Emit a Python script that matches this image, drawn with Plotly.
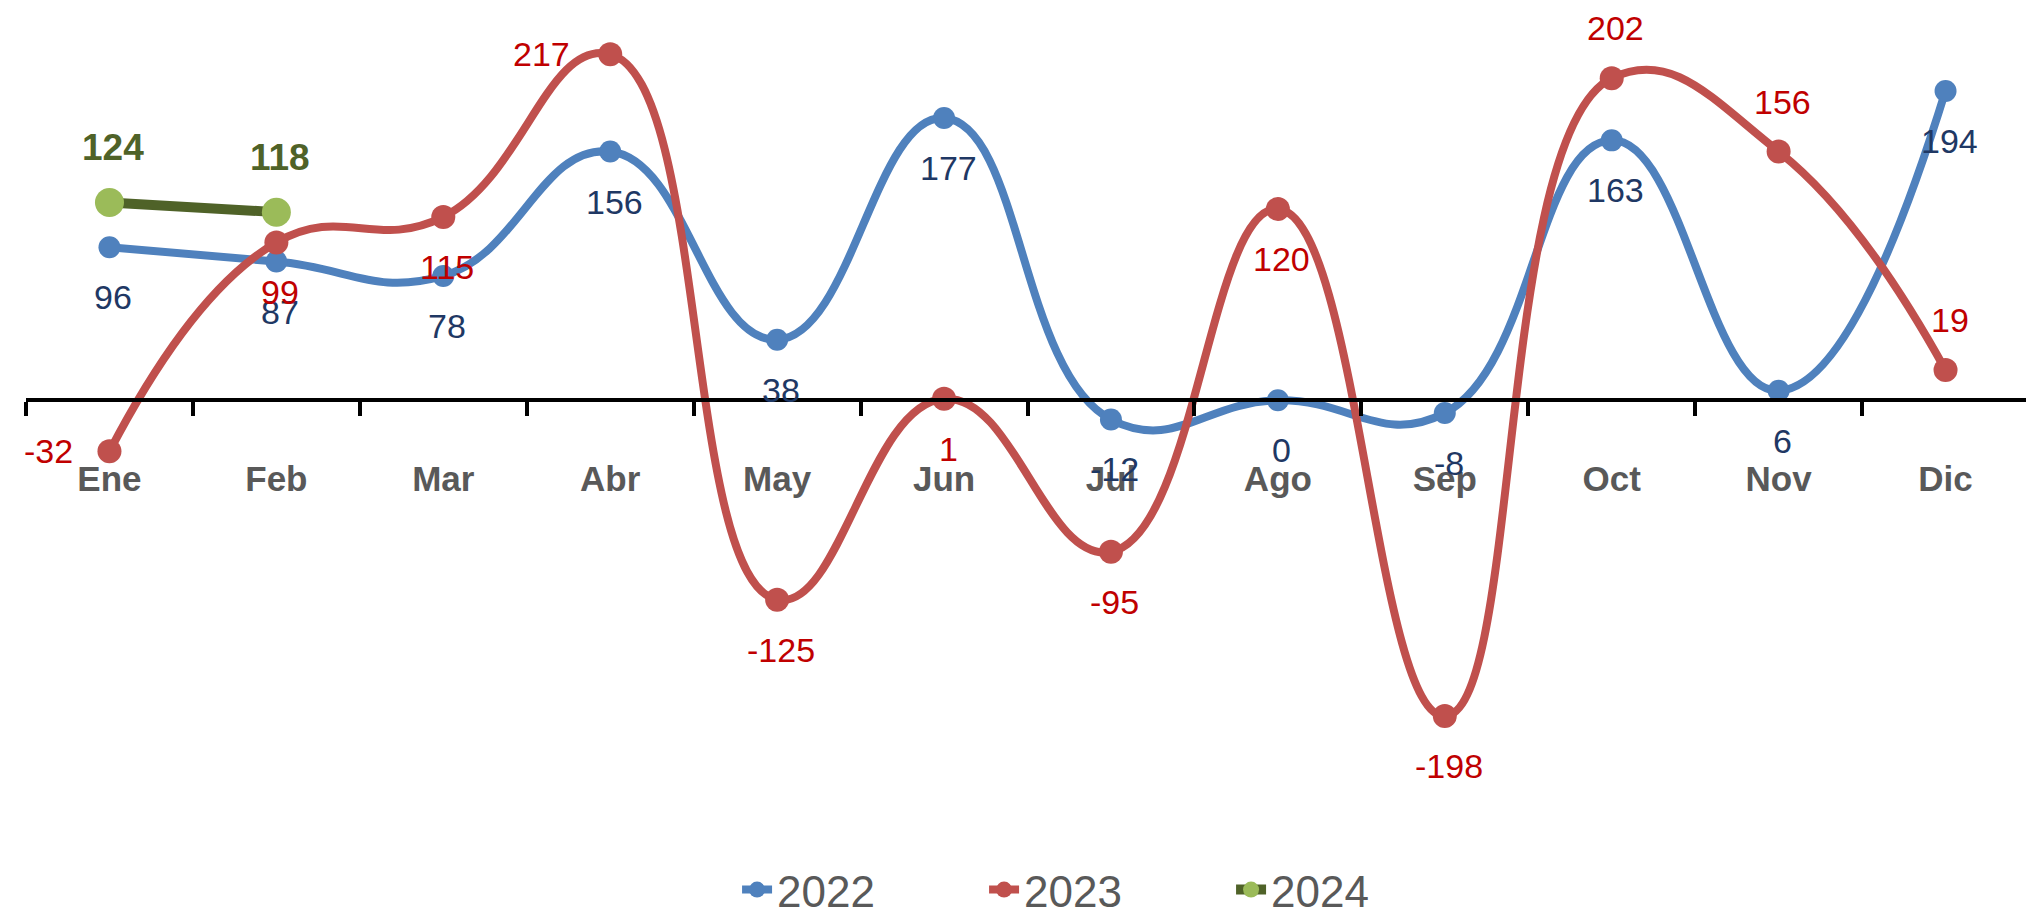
import plotly.graph_objects as go

months = ["Ene", "Feb", "Mar", "Abr", "May", "Jun", "Jul", "Ago", "Sep", "Oct", "Nov", "Dic"]
v2022 = [96, 87, 78, 156, 38, 177, -12, 0, -8, 163, 6, 194]
v2023 = [-32, 99, 115, 217, -125, 1, -95, 120, -198, 202, 156, 19]
months2024 = ["Ene", "Feb"]
v2024 = [124, 118]

# label placement per point (style, not data)
pos2022 = ["below"] * 12
pos2023 = ["left", "below", "below", "left", "below", "below", "below", "below", "below", "above", "above", "above"]
pos2024 = ["above", "above"]

BLUE = "#4F81BD"
RED = "#C0504D"
GREEN_L = "#4F6228"
GREEN_M = "#9BBB59"
NAVY = "#1F3864"
DRED = "#C00000"
GRAY = "#595959"
NUMFONT = "Liberation Sans Narrow, Arial Narrow, Liberation Sans, Arial"

fig = go.Figure()
fig.add_trace(go.Scatter(x=months, y=v2022, name="2022", mode="lines+markers",
                         line=dict(color=BLUE, width=8, shape="spline", smoothing=1.3),
                         marker=dict(color=BLUE, size=22)))
fig.add_trace(go.Scatter(x=months, y=v2023, name="2023", mode="lines+markers",
                         line=dict(color=RED, width=8, shape="spline", smoothing=1.3),
                         marker=dict(color=RED, size=24)))
fig.add_trace(go.Scatter(x=months2024, y=v2024, name="2024", mode="lines+markers",
                         line=dict(color=GREEN_L, width=10),
                         marker=dict(color=GREEN_M, size=29)))

def shifts(p, yv, above_dy=50):
    if p == "below":
        return 4, -50
    if p == "above":
        return 4, above_dy
    if p == "left":
        return (-69 if yv > 200 else -61), 0
    return 0, 0

annotations = []
for xs, ys, ps, col, size, bold, ady in [
    (months, v2022, pos2022, NAVY, 34, False, 50),
    (months, v2023, pos2023, DRED, 34, False, 50),
    (months2024, v2024, pos2024, GREEN_L, 37, True, 55),
]:
    for xv, yv, p in zip(xs, ys, ps):
        dx, dy = shifts(p, yv, ady)
        annotations.append(dict(
            x=xv, y=yv, xref="x", yref="y", text=(f"<b>{yv}</b>" if bold else str(yv)),
            showarrow=False, xshift=dx, yshift=dy, xanchor="center", yanchor="middle",
            font=dict(family=NUMFONT, size=size, color=col)))

fig.update_layout(
    width=2034, height=918,
    margin=dict(l=18, r=13, t=0, b=113),
    paper_bgcolor="white", plot_bgcolor="white",
    annotations=annotations,
    showlegend=True,
    legend=dict(orientation="h", x=0.355, xanchor="left", y=-0.115, yanchor="middle",
                entrywidth=202, entrywidthmode="pixels", itemsizing="trace",
                font=dict(family=NUMFONT, size=44, color=GRAY)),
    xaxis=dict(type="category", categoryorder="array", categoryarray=months,
               range=[-0.5, 11.5], anchor="free", position=250 / 496,
               showline=True, linecolor="black", linewidth=4,
               ticks="outside", tickson="boundaries", ticklen=14, tickwidth=4, tickcolor="black",
               ticklabelstandoff=47,
               tickfont=dict(family=NUMFONT, size=35, color=GRAY, weight="bold"),
               showgrid=False, zeroline=False),
    yaxis=dict(range=[-250, 246], visible=False, showgrid=False, zeroline=False),
)

fig.write_html("out.html")
